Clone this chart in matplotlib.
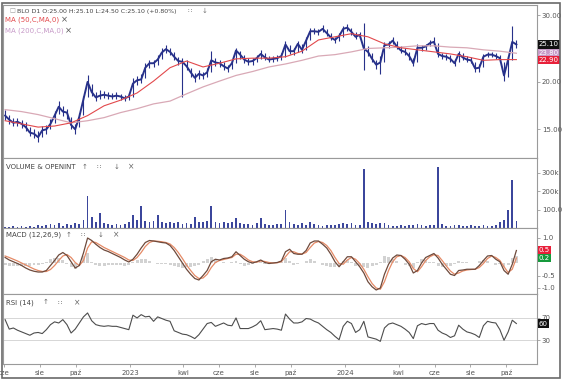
import numpy as np
import pandas as pd
import matplotlib
matplotlib.use("Agg")
import matplotlib.pyplot as plt
from matplotlib.patches import Rectangle
from matplotlib.ticker import NullLocator

W, H = 564, 388

# weekly points, Jun 2022 - Oct 2024
weeks = pd.date_range("2022-06-03", periods=125, freq="7D")
ma_weeks = weeks[::4]

close = [16.3, 15.9, 15.6, 15.7, 15.5, 15.2, 14.7, 14.6, 14.3, 14.9,
         15.0, 15.5, 16.3, 17.2, 16.7, 16.6, 15.4, 15.0, 16.2, 18.0,
         20.0, 18.8, 18.2, 18.4, 18.5, 18.4, 18.3, 18.4, 18.3, 18.1,
         18.3, 19.8, 20.2, 20.3, 21.8, 22.4, 22.4, 22.9, 23.9, 24.4,
         24.0, 23.3, 22.7, 22.6, 22.0, 21.2, 20.5, 21.0, 20.8, 21.2,
         22.8, 22.5, 22.4, 22.0, 21.7, 22.4, 24.2, 23.6, 22.9, 22.6,
         22.7, 23.1, 23.7, 23.2, 22.9, 23.0, 23.1, 23.4, 25.1, 24.1,
         24.1, 25.2, 24.3, 25.7, 27.2, 27.2, 27.1, 27.6, 26.9, 26.2,
         25.8, 26.4, 27.6, 27.8, 27.1, 26.3, 26.6, 24.5, 24.0, 23.0,
         22.2, 22.5, 25.0, 25.1, 25.7, 24.8, 24.2, 24.0, 23.4, 22.4,
         24.6, 24.6, 24.8, 25.3, 25.5, 23.7, 23.4, 23.3, 23.0, 22.4,
         23.7, 23.2, 22.9, 22.8, 21.7, 21.8, 23.3, 23.6, 23.6, 23.4,
         23.1, 20.8, 22.9, 25.5, 25.1]

high = [16.9, 16.4, 16.1, 16.1, 15.9, 15.7, 15.2, 15.0, 14.8, 15.3,
        15.4, 16.0, 16.8, 17.8, 17.3, 17.0, 16.2, 15.5, 16.6, 18.4,
        20.8, 19.8, 18.8, 19.0, 18.9, 18.8, 18.7, 18.8, 18.6, 18.5,
        18.7, 20.5, 20.7, 21.0, 22.4, 22.9, 22.9, 23.5, 24.5, 25.0,
        24.6, 24.0, 23.3, 23.1, 22.8, 21.8, 21.1, 21.5, 21.3, 21.7,
        24.2, 23.1, 22.9, 22.5, 22.2, 23.0, 24.6, 24.2, 23.5, 23.1,
        23.1, 23.5, 24.3, 23.8, 23.4, 23.4, 23.5, 23.8, 25.7, 25.0,
        24.6, 25.7, 25.2, 26.2, 27.7, 27.8, 27.6, 28.2, 27.6, 26.9,
        26.3, 26.9, 28.1, 28.4, 27.8, 27.0, 27.1, 28.6, 24.8, 23.8,
        22.9, 23.4, 25.5, 25.6, 26.2, 25.6, 24.8, 24.5, 24.0, 23.1,
        25.1, 25.0, 25.2, 25.8, 26.3, 25.4, 23.9, 23.7, 23.5, 23.0,
        24.1, 23.8, 23.4, 23.2, 22.6, 22.3, 23.7, 24.0, 24.0, 23.8,
        23.5, 22.6, 23.4, 28.0, 25.8]

low = [15.9, 15.5, 15.3, 15.3, 15.1, 14.8, 14.4, 14.2, 13.9, 14.3,
       14.6, 15.0, 15.6, 16.5, 16.3, 16.0, 15.0, 14.6, 15.2, 16.4,
       18.2, 18.4, 17.8, 18.0, 18.1, 18.0, 18.0, 18.0, 17.9, 17.8,
       17.9, 18.3, 19.6, 19.9, 20.5, 21.8, 21.9, 22.2, 23.0, 23.8,
       23.5, 22.8, 22.2, 18.2, 21.5, 20.6, 20.0, 20.4, 20.3, 20.6,
       21.2, 22.0, 21.9, 21.5, 21.2, 21.6, 22.4, 23.0, 22.4, 22.2,
       22.2, 22.6, 23.0, 22.8, 22.5, 22.6, 22.7, 22.8, 23.3, 23.7,
       23.6, 24.0, 23.9, 24.3, 25.8, 26.7, 26.6, 27.0, 26.4, 25.8,
       25.3, 25.6, 26.3, 27.2, 26.6, 25.9, 26.1, 21.5, 23.4, 22.5,
       21.6, 21.0, 22.6, 24.6, 25.2, 24.4, 23.8, 23.5, 22.9, 22.0,
       22.6, 24.2, 24.3, 24.8, 25.0, 23.3, 23.0, 22.9, 22.6, 22.0,
       22.5, 22.8, 22.5, 22.4, 21.3, 21.3, 21.9, 23.2, 23.2, 23.0,
       22.6, 20.1, 20.6, 22.8, 24.5]

ma50 = [15.8, 15.5, 15.2, 15.3, 15.6, 16.3, 17.3, 17.9, 18.7, 20.1,
        21.8, 22.7, 21.9, 22.4, 23.0, 23.1, 23.1, 23.3, 24.1, 25.8,
        26.3, 26.8, 26.3, 25.2, 24.6, 24.3, 24.0, 23.7, 23.3, 22.8,
        22.9, 22.9]

ma200 = [16.9, 16.7, 16.4, 16.0, 15.6, 15.8, 16.1, 16.6, 17.0, 17.5,
         17.8, 18.6, 19.4, 20.1, 20.8, 21.3, 21.9, 22.3, 22.8, 23.4,
         23.6, 24.0, 24.5, 24.6, 24.7, 24.9, 24.9, 24.7, 24.6, 24.3,
         24.1, 23.8]

# volume in thousands
vol = [8, 6, 10, 7, 9, 6, 12, 8, 15, 10,
       18, 22, 14, 25, 12, 20, 16, 28, 22, 45,
       172, 60, 30, 83, 25, 20, 18, 22, 15, 20,
       30, 72, 45, 122, 40, 35, 38, 72, 30, 28,
       35, 25, 30, 20, 28, 22, 61, 30, 35, 40,
       122, 30, 28, 35, 25, 30, 55, 25, 20, 22,
       18, 25, 55, 20, 15, 18, 20, 22, 100, 30,
       20, 15, 25, 18, 30, 22, 15, 12, 18, 15,
       14, 20, 25, 22, 28, 18, 15, 322, 30, 25,
       20, 28, 25, 15, 12, 10, 14, 12, 18, 15,
       20, 15, 12, 14, 18, 333, 20, 12, 10, 14,
       18, 12, 10, 15, 12, 10, 14, 10, 12, 15,
       30, 45, 100, 261, 40]

macd = [0.22, 0.12, 0.05, -0.02, -0.10, -0.20, -0.28, -0.33, -0.36, -0.36,
        -0.30, -0.10, 0.10, 0.32, 0.42, 0.30, 0.05, -0.20, -0.10, 0.40,
        1.00, 0.90, 0.75, 0.62, 0.52, 0.46, 0.38, 0.30, 0.22, 0.12,
        0.04, 0.15, 0.35, 0.60, 0.82, 0.90, 0.88, 0.85, 0.82, 0.80,
        0.70, 0.50, 0.25, 0.00, -0.25, -0.45, -0.62, -0.68, -0.50, -0.30,
        0.05, 0.15, 0.12, 0.18, 0.20, 0.25, 0.45, 0.30, 0.15, 0.05,
        0.00, 0.05, 0.12, 0.02, -0.02, 0.00, 0.02, 0.08, 0.45, 0.55,
        0.38, 0.35, 0.35, 0.50, 0.80, 0.88, 0.88, 0.75, 0.60, 0.35,
        0.05, -0.15, 0.05, 0.25, 0.25, 0.05, -0.15, -0.40, -0.75, -0.95,
        -1.08, -1.00, -0.45, -0.05, 0.20, 0.32, 0.30, 0.15, -0.05, -0.40,
        -0.30, 0.00, 0.22, 0.30, 0.38, 0.20, -0.05, -0.25, -0.45, -0.50,
        -0.30, -0.28, -0.25, -0.25, -0.25, -0.10, 0.10, 0.28, 0.30, 0.15,
        0.05, -0.30, -0.45, -0.05, 0.50]

signal = [0.28, 0.22, 0.15, 0.08, 0.00, -0.08, -0.16, -0.24, -0.30, -0.34,
          -0.34, -0.26, -0.10, 0.10, 0.28, 0.34, 0.22, 0.02, -0.10, 0.10,
          0.60, 0.85, 0.82, 0.72, 0.62, 0.54, 0.46, 0.38, 0.30, 0.22,
          0.12, 0.10, 0.22, 0.42, 0.66, 0.82, 0.88, 0.87, 0.85, 0.82,
          0.76, 0.62, 0.42, 0.18, -0.08, -0.30, -0.50, -0.62, -0.60, -0.45,
          -0.18, 0.02, 0.10, 0.14, 0.18, 0.22, 0.35, 0.35, 0.25, 0.12,
          0.05, 0.03, 0.08, 0.06, 0.02, 0.00, 0.01, 0.05, 0.25, 0.45,
          0.45, 0.38, 0.36, 0.42, 0.62, 0.80, 0.86, 0.82, 0.70, 0.50,
          0.22, -0.02, -0.05, 0.12, 0.22, 0.15, -0.02, -0.25, -0.55, -0.82,
          -1.00, -1.05, -0.75, -0.30, 0.05, 0.25, 0.30, 0.22, 0.05, -0.22,
          -0.35, -0.15, 0.10, 0.25, 0.33, 0.30, 0.10, -0.12, -0.32, -0.45,
          -0.40, -0.32, -0.28, -0.26, -0.25, -0.18, -0.02, 0.18, 0.28, 0.22,
          0.10, -0.15, -0.38, -0.25, 0.20]

rsi = [67, 50, 52, 48, 45, 42, 39, 43, 44, 42,
       49, 58, 63, 61, 67, 58, 43, 50, 61, 72,
       79, 65, 58, 56, 55, 56, 55, 55, 53, 51,
       49, 75, 70, 76, 72, 73, 64, 72, 69, 66,
       64, 47, 44, 41, 40, 37, 33, 40, 50, 60,
       62, 55, 58, 61, 57, 56, 70, 51, 51, 51,
       54, 58, 65, 49, 50, 51, 50, 48, 77, 68,
       61, 61, 63, 69, 68, 64, 61, 55, 49, 44,
       37, 31, 55, 64, 60, 44, 49, 64, 36, 34,
       32, 28, 52, 59, 61, 58, 55, 50, 44, 33,
       56, 60, 58, 60, 60, 48, 43, 40, 35, 38,
       57, 50, 45, 43, 40, 35, 56, 64, 62, 61,
       49, 30, 45, 66, 60]

tick_dates = pd.to_datetime(["2022-06-01", "2022-08-01", "2022-10-01", "2023-01-01",
                             "2023-04-01", "2023-06-01", "2023-08-01", "2023-10-01",
                             "2024-01-01", "2024-04-01", "2024-06-01", "2024-08-01",
                             "2024-10-01"])
tick_labels = ["cze", "sie", "paź", "2023", "kwi", "cze", "sie", "paź",
               "2024", "kwi", "cze", "sie", "paź"]

TXT = "#555555"
NAVY = "#27318a"


def rect(x0, y0, x1, y1):
    return [x0 / W, 1 - y1 / H, (x1 - x0) / W, (y1 - y0) / H]


fig = plt.figure(figsize=(W / 100, H / 100), dpi=100)
ax = fig.add_axes(rect(3, 5, 537, 158))
axv = fig.add_axes(rect(3, 158, 537, 228), sharex=ax)
axm = fig.add_axes(rect(3, 228, 537, 294), sharex=ax)
axr = fig.add_axes(rect(3, 294, 537, 364), sharex=ax)

for a in (ax, axv, axm, axr):
    a.yaxis.tick_right()
    a.tick_params(axis="y", labelsize=5, labelcolor=TXT, color="#888", length=2,
                  width=0.5, pad=1.5)
    a.tick_params(axis="x", bottom=False, labelbottom=False)
    for s in a.spines.values():
        s.set_color("#9a9a9a")
        s.set_linewidth(0.8)

t0 = pd.Timestamp("2023-01-01")
ax.set_xlim(t0 - pd.Timedelta(days=215.6), t0 + pd.Timedelta(days=691))

# price panel
ax.vlines(weeks, low, high, color=NAVY, lw=0.8)
ax.plot(weeks, close, color=NAVY, lw=1.4)
ax.plot(ma_weeks, ma200, color="#d9a9b6", lw=0.9)
ax.plot(ma_weeks, ma50, color="#e2494c", lw=0.8)
ax.set_yscale("log")
ax.set_ylim(12.6, 31.9)
ax.yaxis.set_minor_locator(NullLocator())
ax.set_yticks([15, 20, 30])
ax.set_yticklabels(["15.00", "20.00", "30.00"])

ty = ax.get_yaxis_transform()
box = dict(boxstyle="square,pad=0.15", ec="none")
ax.text(1.003, close[-1], f"{close[-1]:.2f}", transform=ty, fontsize=5, color="white",
        va="center", bbox=dict(box, fc="#111111"))
ax.text(1.003, ma200[-1], f"{ma200[-1]:.2f}", transform=ty, fontsize=5, color="white",
        va="center", bbox=dict(box, fc="#c79ac8"))
ax.text(1.003, ma50[-1], f"{ma50[-1]:.2f}", transform=ty, fontsize=5, color="white",
        va="center", bbox=dict(box, fc="#e8203a"))

# volume panel
axv.bar(weeks, vol, width=3.0, color="#3b469c")
axv.set_ylim(0, 380)
axv.set_yticks([100, 200, 300])
axv.set_yticklabels(["100.0", "200k", "300k"])

# macd panel
hist = np.array(macd) - np.array(signal)
axm.bar(weeks, hist, width=5, color="#d2d2d2")
axm.plot(weeks, signal, color="#e58a66", lw=0.9)
axm.plot(weeks, macd, color="#6e4a3c", lw=0.9)
axm.set_ylim(-1.24, 1.4)
axm.set_yticks([-1.0, -0.5, 1.0])
axm.set_yticklabels(["-1.0", "-0.5", "1.0"])
tm = axm.get_yaxis_transform()
axm.text(1.003, macd[-1], f"{macd[-1]:.1f}", transform=tm, fontsize=5, color="white",
         va="center", bbox=dict(box, fc="#e8203a"))
axm.text(1.003, signal[-1], f"{signal[-1]:.1f}", transform=tm, fontsize=5, color="white",
         va="center", bbox=dict(box, fc="#169a3c"))

# rsi panel
axr.axhline(70, color="#d0d0d0", lw=0.6)
axr.axhline(30, color="#d0d0d0", lw=0.6)
axr.plot(weeks, rsi, color="#4d4d4d", lw=0.8)
axr.set_ylim(-12.6, 113)
axr.set_yticks([30, 70])
axr.set_yticklabels(["30", "70"])
axr.text(1.003, rsi[-1], f"{rsi[-1]:.0f}", transform=axr.get_yaxis_transform(),
         fontsize=5, color="white", va="center", bbox=dict(box, fc="#111111"))

axr.tick_params(axis="x", bottom=True, labelbottom=True, labelsize=5, labelcolor=TXT,
                color="#888", length=2, width=0.5, pad=2)
axr.set_xticks(tick_dates)
axr.set_xticklabels(tick_labels)


def ftext(x, y, s, **kw):
    kw.setdefault("fontsize", 5)
    kw.setdefault("color", "#444444")
    fig.text(x / W, 1 - y / H, s, va="center", ha="left", **kw)


ftext(9, 11, "□", color="#999999", fontsize=4.5)
ftext(17, 11, "BLO D1 O:25.00 H:25.10 L:24.50 C:25.10 (+0.80%)", fontsize=4.5)
ftext(188, 11, "∷", color="#777777")
ftext(202, 11, "↓", color="#777777")
ftext(5, 20, "MA (50,C,MA,0)", color="#e2494c")
ftext(61, 20, "×", color="#555555", fontsize=6)
ftext(5, 31, "MA (200,C,MA,0)", color="#c79ac8")
ftext(65, 31, "×", color="#555555", fontsize=6)

ftext(6, 167, "VOLUME & OPENINT")
ftext(6, 235, "MACD (12,26,9)")
ftext(6, 302.5, "RSI (14)")
for y, xs, syms in [(167, [82, 97, 114, 128], ["↑", "∷", "↓", "×"]),
                    (235, [66, 81, 98, 113], ["↑", "∷", "↓", "×"]),
                    (302.5, [43, 58, 74], ["↑", "∷", "×"])]:
    for x, s in zip(xs, syms):
        ftext(x, y, s, color="#666666", fontsize=5.5 if s == "×" else 5)

fig.add_artist(Rectangle((2 / W, 1 - 378 / H), 558 / W, 375 / H, transform=fig.transFigure,
                         fill=False, ec="#6a6a6a", lw=1.2))

fig.savefig("out.png", dpi=100)
